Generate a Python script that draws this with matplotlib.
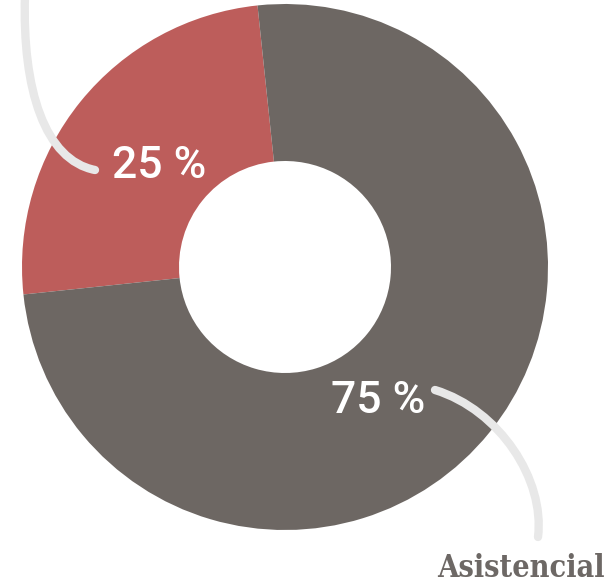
import numpy as np
import matplotlib.pyplot as plt
from matplotlib.path import Path
from matplotlib.patches import PathPatch

# share of each group (first wedge is the red one)
groups = ['Otros', 'Asistencial']
shares = [25, 75]
colors = ['#bd5d5b', '#6d6763']
label_angles = [141, 305]  # where each percent label sits, degrees

W, H = 607, 583
fig = plt.figure(figsize=(W / 100, H / 100), dpi=100)
ax = fig.add_axes([0, 0, 1, 1])

cx, cy = 285, H - 267
r_out, r_in = 263, 106

ax.pie(shares, colors=colors, startangle=96, counterclock=True,
       radius=r_out, center=(cx, cy),
       wedgeprops=dict(width=r_out - r_in, linewidth=0))

ax.set_xlim(0, W)
ax.set_ylim(0, H)
ax.set_aspect('equal')
ax.axis('off')

# percent labels inside the ring
for v, a in zip(shares, label_angles):
    t = np.deg2rad(a)
    r = 162
    ax.text(cx + r * np.cos(t), cy + r * np.sin(t) - 1, f'{v} %',
            color='white', fontsize=32, family='Roboto', fontweight='medium',
            ha='center', va='center')


def curve(pts):
    # leader line in pixel coords (y measured from top)
    p = [(x, H - y) for x, y in pts]
    codes = [Path.MOVETO] + [Path.CURVE4] * (len(p) - 1)
    patch = PathPatch(Path(p, codes), fill=False, edgecolor='#e8e8e8',
                      linewidth=6, capstyle='round', zorder=5)
    ax.add_patch(patch)


curve([(25, -5), (22, 90), (45, 160), (95, 170)])
curve([(435, 390), (500, 410), (545, 480), (538, 537)])

ax.text(605, H - 577, groups[1], color='#6d6865', fontsize=22,
        family='DejaVu Serif', fontweight='bold', fontstretch='condensed',
        ha='right', va='baseline')

fig.savefig('out.png', dpi=100, facecolor='white')
